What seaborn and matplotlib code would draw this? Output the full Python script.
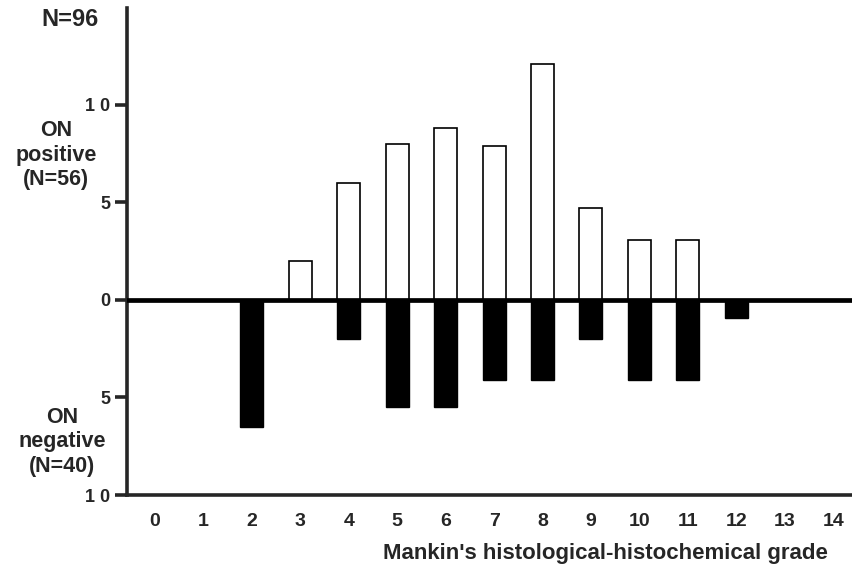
import matplotlib
matplotlib.use("Agg")
import matplotlib.pyplot as plt
import seaborn as sns
import pandas as pd

# ─── Dane ────────────────────────────────────────────────────────────
grades = list(range(15))
pos_grades = [3, 4, 5, 6, 7, 8, 9, 10, 11]
pos_counts = [2, 6, 8, 8.8, 7.9, 12.1, 4.7, 3.1, 3.1]
neg_grades = [2, 4, 5, 6, 7, 8, 9, 10, 11, 12]
neg_counts = [6.5, 2, 5.5, 5.5, 4.1, 4.1, 2, 4.1, 4.1, 0.9]
ytick_vals = [10, 5, 0, -5, -10]
ytick_labels = ["1 0", "5", "0", "5", "1 0"]

sns.set_style("ticks")
plt.rcParams['font.family'] = ['Liberation Sans', 'DejaVu Sans']
plt.rcParams['font.weight'] = 'bold'

df_pos = pd.DataFrame({"grade": pos_grades, "n": pos_counts})
df_neg = pd.DataFrame({"grade": neg_grades, "n": [-v for v in neg_counts]})

fig = plt.figure(figsize=(8.53, 5.64), dpi=100)
ax = fig.add_axes([127 / 853, 69 / 564, 1 - 127 / 853, (495 - 8) / 564])

sns.barplot(data=df_pos, x="grade", y="n", order=grades, color="white",
            edgecolor="black", linewidth=1.2, width=0.475, ax=ax)
sns.barplot(data=df_neg, x="grade", y="n", order=grades, color="black",
            edgecolor="black", linewidth=1.0, width=0.475, ax=ax)
for p in ax.patches:
    p.set_alpha(1)

ax.axhline(0, color="black", lw=3.4, zorder=5)

ax.set_xlim(-0.58, 14.41)
ax.set_ylim(-10, 14.97)
ax.set_yticks(ytick_vals)
ax.set_yticklabels(ytick_labels, fontsize=13, fontweight='bold')
ax.set_xticks(grades)
ax.set_xticklabels([str(g) for g in grades], fontsize=14, fontweight='bold')
ax.tick_params(axis='x', length=0, pad=13)
ax.tick_params(axis='y', length=9, width=2.6, pad=3)

sns.despine(ax=ax, top=True, right=True)
ax.spines['left'].set_linewidth(2.6)
ax.spines['bottom'].set_linewidth(2.6)
ax.set_xlabel("")
ax.set_ylabel("")

# ─── Opisy ───────────────────────────────────────────────────────────
fig.text(70 / 853, 1 - 20 / 564, "N=96", ha='center', va='center',
         fontsize=17, fontweight='bold')
fig.text(56 / 853, 1 - 155 / 564, "ON\npositive\n(N=56)", ha='center', va='center',
         fontsize=15.5, fontweight='bold', linespacing=1.2)
fig.text(62 / 853, 1 - 442 / 564, "ON\nnegative\n(N=40)", ha='center', va='center',
         fontsize=15.5, fontweight='bold', linespacing=1.2)
fig.text(828 / 853, 1 - 553 / 564, "Mankin's histological-histochemical grade",
         ha='right', va='center', fontsize=16, fontweight='bold')

fig.savefig("out.png", dpi=100)
